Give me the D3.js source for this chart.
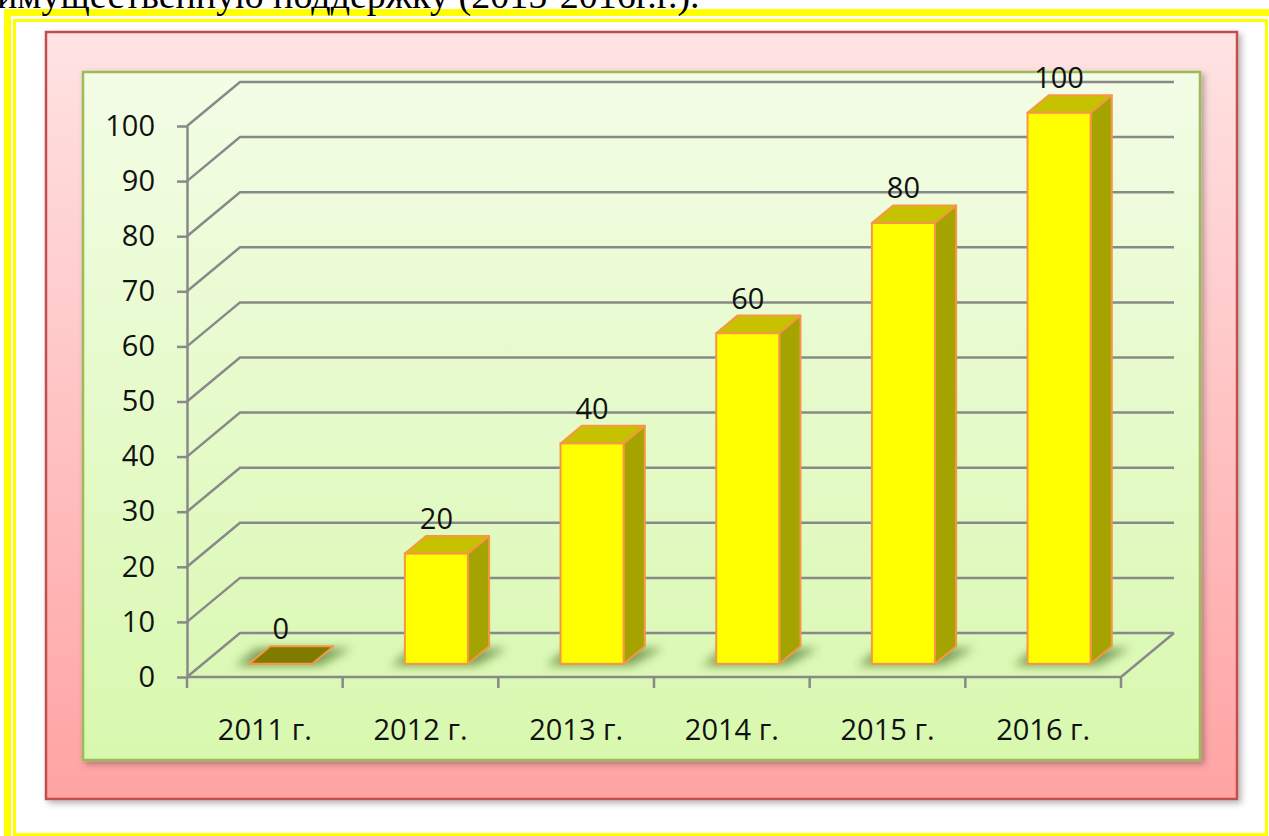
<!DOCTYPE html>
<html lang="ru">
<head>
<meta charset="UTF-8">
<title></title>
<style>
  * {padding:0; margin:0;}
  body {background:#fff; width:1269px; height:836px; overflow:hidden;}
  #chart text {font-family:"Open Sans", sans-serif;}
  #chart .title {font-family:"Liberation Serif", serif; font-size:38px;}
  .axis text {font-size:29px; fill:#111;}
  .axis path, .axis line {stroke:#898989; stroke-width:2.5px;}
  .grid {fill:none; stroke:#898989; stroke-width:2.5px;}
  .barNum {font-size:29px; text-anchor:middle; fill:#111;}
</style>
</head>
<body>
<svg id="chart" width="1269" height="836"></svg>
<script src="https://cdn.jsdelivr.net/npm/d3@7"></script>
<script>
// данные
var categories = ["2011 г.", "2012 г.", "2013 г.", "2014 г.", "2015 г.", "2016 г."];
var values = [0, 20, 40, 60, 80, 100];
var yTicks = [0, 10, 20, 30, 40, 50, 60, 70, 80, 90, 100];
var title = "имущественную поддержку (2015-2016г.г.).";

var svg = d3.select("#chart");
var defs = svg.append("defs");

// градиенты
var g1 = defs.append("linearGradient").attr("id", "pinkGrad").attr("x1", 0).attr("y1", 0).attr("x2", 0).attr("y2", 1);
g1.append("stop").attr("offset", "0%").attr("stop-color", "#ffe3e3");
g1.append("stop").attr("offset", "100%").attr("stop-color", "#ffa3a3");
var g2 = defs.append("linearGradient").attr("id", "greenGrad").attr("x1", 0).attr("y1", 0).attr("x2", 0).attr("y2", 1);
g2.append("stop").attr("offset", "0%").attr("stop-color", "#f3fde6");
g2.append("stop").attr("offset", "100%").attr("stop-color", "#d8f8ae");

var sh = defs.append("filter").attr("id", "dropShadow").attr("x", "-5%").attr("y", "-5%").attr("width", "110%").attr("height", "110%");
sh.append("feDropShadow").attr("dx", 3).attr("dy", 3).attr("stdDeviation", 3).attr("flood-color", "#000").attr("flood-opacity", 0.3);
var bl = defs.append("filter").attr("id", "blur").attr("x", "-50%").attr("y", "-50%").attr("width", "200%").attr("height", "200%");
bl.append("feGaussianBlur").attr("stdDeviation", 5);

// рамка
svg.append("rect").attr("x", 7.5).attr("y", 12.5).attr("width", 1270).attr("height", 830)
  .attr("fill", "none").attr("stroke", "#ffff00").attr("stroke-width", 7);
svg.append("rect").attr("x", 14.5).attr("y", 20.5).attr("width", 1252).attr("height", 814)
  .attr("fill", "none").attr("stroke", "#ffff00").attr("stroke-width", 3);

// заголовок (обрезан сверху, как на образце)
svg.append("text").attr("class", "title").attr("x", -3).attr("y", 8).text(title);

// фон
svg.append("rect").attr("x", 46).attr("y", 32).attr("width", 1191).attr("height", 767)
  .attr("fill", "url(#pinkGrad)").attr("stroke", "#c0504d").attr("stroke-width", 2.5)
  .attr("filter", "url(#dropShadow)");
svg.append("rect").attr("x", 83).attr("y", 72).attr("width", 1117).attr("height", 688)
  .attr("fill", "url(#greenGrad)").attr("stroke", "#9bbb59").attr("stroke-width", 2.5)
  .attr("filter", "url(#dropShadow)");

// шкалы
var depthX = 53, depthY = 44;
var x = d3.scaleBand().domain(categories).range([187, 1121]);
var y = d3.scaleLinear().domain([0, 100]).range([677, 126]);
var barW = x.bandwidth() * 0.405;
var d0 = 0.3, d1 = 0.7;
var x0 = x.range()[0], x1 = x.range()[1];

// сетка (боковая и задняя стенки)
svg.append("g").selectAll("path").data(yTicks).enter().append("path")
  .attr("class", "grid")
  .attr("d", function(t){
    return "M" + x0 + "," + y(t) + "L" + (x0 + depthX) + "," + (y(t) - depthY) +
      "L" + (x1 + depthX) + "," + (y(t) - depthY);
  });
// пол
svg.append("path").attr("class", "grid")
  .attr("d", "M" + x0 + "," + y(0) + "L" + x1 + "," + y(0) + "L" + (x1 + depthX) + "," + (y(0) - depthY));
svg.append("g").selectAll("line").data(d3.range(categories.length + 1)).enter().append("line")
  .attr("class", "grid")
  .attr("x1", function(i){ return x0 + i * x.step(); })
  .attr("x2", function(i){ return x0 + i * x.step(); })
  .attr("y1", y(0)).attr("y2", y(0) + 11);

// ось Y
svg.append("g").attr("class", "axis").attr("transform", "translate(" + x0 + ",0)")
  .call(d3.axisLeft(y).tickValues(yTicks).tickSize(10).tickSizeOuter(0).tickPadding(22));

// ось X (подписи)
svg.append("g").attr("class", "axis").attr("transform", "translate(0," + y(0) + ")")
  .call(d3.axisBottom(x).tickSize(0).tickPadding(42))
  .call(function(g){ g.select(".domain").remove(); });

// столбцы
var barData = values.map(function(v, i){ return {cat: categories[i], v: v}; });
var bars = svg.append("g").selectAll("g").data(barData).enter().append("g");
function fl(d){ return x(d.cat) + x.bandwidth() / 2 + depthX * d0 - barW / 2; }
var fdx = depthX * (d1 - d0), fdy = depthY * (d1 - d0);

// тень
bars.append("path")
  .attr("fill", "#2f5a08").attr("opacity", 0.55).attr("filter", "url(#blur)")
  .attr("d", function(d){
    var l = fl(d) - 14, r = fl(d) + barW + 8, b = y(0) - depthY * d0 + 2;
    return "M" + l + "," + b + "L" + (l + fdx) + "," + (b - fdy) + "L" + (r + fdx + 10) + "," + (b - fdy) + "L" + r + "," + b + "Z";
  });

// боковая грань
bars.filter(function(d){ return d.v > 0; }).append("path")
  .attr("fill", "#a5a300").attr("stroke", "#f79646").attr("stroke-width", 2).attr("stroke-linejoin", "round")
  .attr("d", function(d){
    var r = fl(d) + barW, t = y(d.v) - depthY * d0, b = y(0) - depthY * d0;
    return "M" + r + "," + t + "L" + (r + fdx) + "," + (t - fdy) + "L" + (r + fdx) + "," + (b - fdy) + "L" + r + "," + b + "Z";
  });
// верхняя грань
bars.append("path")
  .attr("fill", function(d){ return d.v > 0 ? "#c6c200" : "#7f7a00"; })
  .attr("stroke", "#f79646").attr("stroke-width", 2).attr("stroke-linejoin", "round")
  .attr("d", function(d){
    var l = fl(d), r = l + barW, t = y(d.v) - depthY * d0;
    return "M" + l + "," + t + "L" + (l + fdx) + "," + (t - fdy) + "L" + (r + fdx) + "," + (t - fdy) + "L" + r + "," + t + "Z";
  });
// передняя грань
bars.filter(function(d){ return d.v > 0; }).append("rect")
  .attr("fill", "#ffff00").attr("stroke", "#f79646").attr("stroke-width", 2)
  .attr("x", function(d){ return fl(d); })
  .attr("y", function(d){ return y(d.v) - depthY * d0; })
  .attr("width", barW)
  .attr("height", function(d){ return y(0) - y(d.v); });

// подписи значений
bars.append("text").attr("class", "barNum")
  .attr("x", function(d){ return fl(d) + barW / 2; })
  .attr("y", function(d){ return y(d.v) - depthY * d0 - fdy - 7; })
  .text(function(d){ return d.v; });
</script>
</body>
</html>
